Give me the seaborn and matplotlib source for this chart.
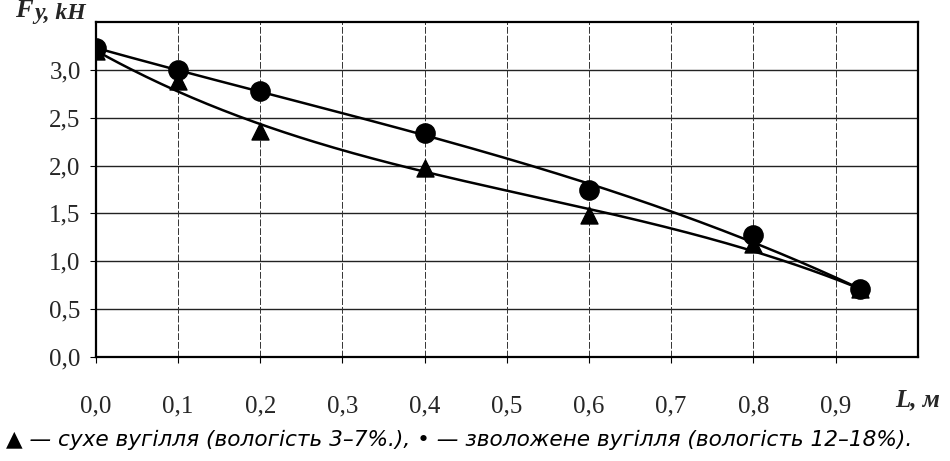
import numpy as np
import pandas as pd
import matplotlib
matplotlib.use("Agg")
import matplotlib.pyplot as plt
import matplotlib.transforms as mtransforms
from matplotlib.ticker import FuncFormatter
import seaborn as sns

# data
L = [0.0, 0.1, 0.2, 0.4, 0.6, 0.8, 0.93]
F_dry = [3.20, 2.88, 2.36, 1.97, 1.48, 1.18, 0.71]
F_wet = [3.23, 3.00, 2.78, 2.34, 1.74, 1.27, 0.71]
x_ticks = [0.0, 0.1, 0.2, 0.3, 0.4, 0.5, 0.6, 0.7, 0.8, 0.9]
y_ticks = [0.0, 0.5, 1.0, 1.5, 2.0, 2.5, 3.0]
caption = "▲ — сухе вугілля (вологість 3–7%.), • — зволожене вугілля (вологість 12–18%)."

sns.set_theme(style="white")
plt.rcParams['font.family'] = ['Liberation Serif', 'DejaVu Serif']

fig = plt.figure(figsize=(9.5, 4.61), dpi=100)
ax = fig.add_axes([0.101, 0.226, 0.865, 0.726])

# trend curves (cubic fits of the read points, endpoints weighted)
w = [5, 1, 1, 1, 1, 1, 5]
xs = np.linspace(0, L[-1], 200)
cd = np.polyfit(L, F_dry, 3, w=w)
cw = np.polyfit(L, F_wet, 3, w=w)
curves = pd.DataFrame({"L": np.concatenate([xs, xs]),
                       "F": np.concatenate([np.polyval(cd, xs), np.polyval(cw, xs)]),
                       "s": ["dry"] * len(xs) + ["wet"] * len(xs)})
sns.lineplot(data=curves, x="L", y="F", units="s", estimator=None, color="black",
             lw=1.8, ax=ax, legend=False)

sns.scatterplot(x=L, y=F_dry, marker="^", s=150, color="black", edgecolor="black",
                ax=ax, zorder=4, legend=False)
sns.scatterplot(x=L, y=F_wet, marker="o", s=190, color="black", edgecolor="black",
                ax=ax, zorder=5, legend=False)

ax.set_xlim(0, 1.0)
ax.set_ylim(0, 3.5)
ax.set_xticks(x_ticks)
ax.set_yticks(y_ticks)
fmt = FuncFormatter(lambda v, p: f"{v:.1f}".replace(".", ","))
ax.xaxis.set_major_formatter(fmt)
ax.yaxis.set_major_formatter(fmt)
ax.tick_params(axis="x", which="major", length=4, width=0.8, color="black",
               pad=24, labelsize=18, direction="out", bottom=True)
ax.tick_params(axis="y", which="major", length=4, width=0.8, color="black",
               pad=7, labelsize=18, direction="out", left=True)
ax.set_xlabel("")
ax.set_ylabel("")

ax.grid(False)
for y in y_ticks[1:]:
    ax.axhline(y, color="#222222", lw=1.0, zorder=1)
for x in x_ticks[1:]:
    ax.axvline(x, color="#333333", lw=0.7, ls=(0, (7, 2)), zorder=1)

for sp in ax.spines.values():
    sp.set_visible(True)
    sp.set_color("black")
    sp.set_linewidth(1.6)

# axis titles
t = ax.text(-0.098, 1.0, "F", transform=ax.transAxes, fontsize=19,
            fontweight="bold", fontstyle="italic", ha="left", va="bottom")
ax.annotate("y, kH", xy=(1, 0), xycoords=t, fontsize=17, fontweight="bold",
            fontstyle="italic", ha="left", va="bottom", xytext=(1, -1),
            textcoords="offset points")
trans = mtransforms.blended_transform_factory(ax.transData, ax.transAxes)
ax.text(1.0, -0.128, "L, м", transform=trans, fontsize=18, fontweight="bold",
        fontstyle="italic", ha="center", va="center")

fig.text(0.006, 0.045, caption, family=["DejaVu Sans"], fontstyle="italic",
         fontsize=15.6, ha="left", va="center", color="black")

fig.savefig("out.png", dpi=100, facecolor="white")
